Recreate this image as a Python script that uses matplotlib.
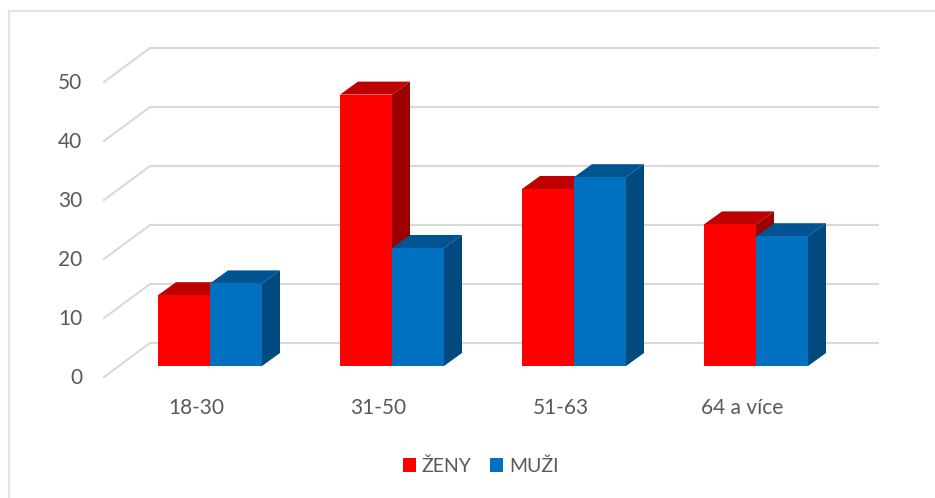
import matplotlib
matplotlib.use("Agg")
import matplotlib.pyplot as plt
from matplotlib.lines import Line2D
from matplotlib.patches import Patch, Polygon
from matplotlib.transforms import ScaledTranslation
import numpy as np

categories = ["18-30", "31-50", "51-63", "64 a více"]
zeny = [12, 46, 30, 24]
muzi = [14, 20, 32, 22]
y_ticks = [0, 10, 20, 30, 40, 50]
series_names = ["ŽENY", "MUŽI"]

W, H = 935, 498
plt.rcParams["font.family"] = ["Lato", "DejaVu Sans"]
fig = plt.figure(figsize=(W / 100, H / 100), dpi=100, facecolor="white")

# plot box in pixels
PX_L, PX_R, PX_T, PX_B = 104, 878, 47, 378
PX_X0, PX_Y0 = 210, 366.0     # pixel of category 0 centre / value 0 (front of bars)
PX_PER_CAT, PX_PER_UNIT = 182, 5.9
ax = fig.add_axes([PX_L / W, 1 - PX_B / H, (PX_R - PX_L) / W, (PX_B - PX_T) / H])
ax.set_xlim((PX_L - PX_X0) / PX_PER_CAT, (PX_R - PX_X0) / PX_PER_CAT)
ax.set_ylim((PX_Y0 - PX_B) / PX_PER_UNIT, (PX_Y0 - PX_T) / PX_PER_UNIT)

bar_w = 52 / PX_PER_CAT
dep_x = 18 / PX_PER_CAT
dep_y = 13 / PX_PER_UNIT

# walls gridlines
x_front = ax.get_xlim()[0]
x_back = (150 - PX_X0) / PX_PER_CAT
x_end = ax.get_xlim()[1]
y_back_off = (PX_Y0 - 343) / PX_PER_UNIT
y_front_off = (PX_Y0 - 377) / PX_PER_UNIT
GRID = "#D9D9D9"
for v in y_ticks:
    ax.plot([x_front, x_back, x_end],
            [v + y_front_off, v + y_back_off, v + y_back_off],
            color=GRID, lw=1.5, zorder=1, solid_joinstyle="miter", clip_on=False)


def bars(xs, values, front, top, side, z):
    ax.bar(xs, values, width=bar_w, align="edge", color=front, linewidth=0, zorder=z + 0.2)
    for x, v in zip(xs, values):
        r = x + bar_w
        ax.add_patch(Polygon([(x, v), (r, v), (r + dep_x, v + dep_y), (x + dep_x, v + dep_y)],
                             closed=True, fc=top, ec="none", zorder=z))
        ax.add_patch(Polygon([(r, 0), (r + dep_x, dep_y), (r + dep_x, v + dep_y), (r, v)],
                             closed=True, fc=side, ec="none", zorder=z))


pos = np.arange(len(categories))
bars(pos - bar_w, zeny, "#FF0000", "#BF0000", "#9C0000", 2)
bars(pos, muzi, "#0070C0", "#005492", "#004A80", 3)

for s in ax.spines.values():
    s.set_visible(False)
ax.patch.set_visible(False)

TXT = "#595959"
ax.set_xticks(pos)
ax.set_xticklabels(categories, fontsize=15, color=TXT)
ax.set_yticks(y_ticks)
ax.set_yticklabels([str(v) for v in y_ticks], fontsize=15, color=TXT)
ax.tick_params(axis="both", length=0)
ax.tick_params(axis="y", pad=15.7)
ax.tick_params(axis="x", pad=14.5)
off_x = ScaledTranslation(-13.5 / 100, 0, fig.dpi_scale_trans)
off_y = ScaledTranslation(0, -10.2 / 100, fig.dpi_scale_trans)
for lab in ax.get_xticklabels():
    lab.set_transform(lab.get_transform() + off_x)
for lab in ax.get_yticklabels():
    lab.set_transform(lab.get_transform() + off_y)

handles = [Patch(fc="#FF0000", ec="none"), Patch(fc="#0070C0", ec="none")]
fig.legend(handles, series_names, loc="center", bbox_to_anchor=(480.5 / W, 1 - 466 / H),
           ncol=2, frameon=False, fontsize=14, labelcolor=TXT, handlelength=0.67,
           handleheight=0.67, handletextpad=0.31, columnspacing=0.93, borderpad=0)

# chart frame
fig.add_artist(Line2D([8.5 / W, 8.5 / W], [0, 1 - 11 / H], color="#E3E3E3", lw=1.5))
fig.add_artist(Line2D([8.5 / W, 1], [1 - 11 / H, 1 - 11 / H], color="#E3E3E3", lw=1.5))

fig.savefig("out.png", dpi=100, facecolor="white")
